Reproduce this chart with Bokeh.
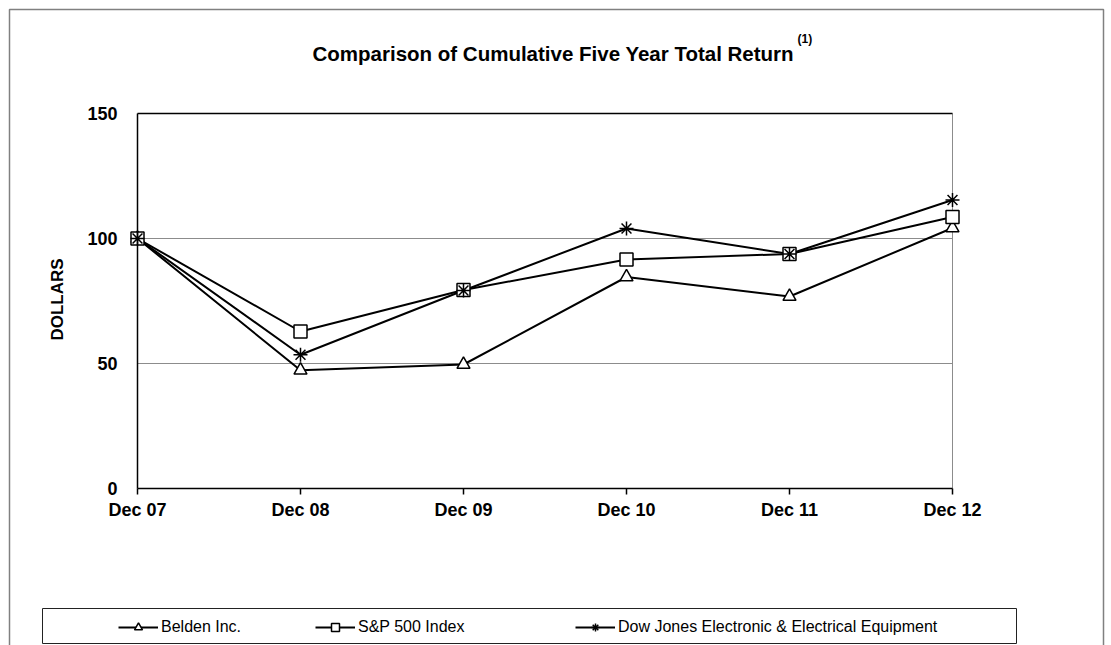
import math
from bokeh.plotting import figure
from bokeh.models import Label, Legend, LegendItem, BoxAnnotation, FixedTicker, Range1d
from bokeh.embed import file_html
from bokeh.resources import INLINE

# ---- data ----
years = ["Dec 07", "Dec 08", "Dec 09", "Dec 10", "Dec 11", "Dec 12"]
belden = [100, 47.3, 49.6, 84.6, 76.8, 104.2]
sp500 = [100, 62.8, 79.4, 91.6, 93.8, 108.6]
dowjones = [100, 53.5, 79.2, 104.0, 93.8, 115.4]
series_names = ["Belden Inc.", "S&P 500 Index", "Dow Jones Electronic & Electrical Equipment"]
y_ticks = [0, 50, 100, 150]
grid_values = [50, 100]
title_text = "Comparison of Cumulative Five Year Total Return"
title_note = "(1)"
y_title = "DOLLARS"

# ---- layout (canvas px) ----
W, H = 1111, 645
PL, PR, PT, PB = 137, 952, 113, 488   # plot box
FONT = "Liberation Sans"
xs = list(range(len(years)))
xmax = len(years) - 1
ymax = y_ticks[-1]
ux = (PR - PL) / xmax
uy = (PB - PT) / ymax
x_range = Range1d(-PL / ux, xmax + (W - PR) / ux)
y_range = Range1d(-(H - PB) / uy, ymax + PT / uy)

p = figure(width=W, height=H, output_backend="svg", toolbar_location=None, title=None,
           x_range=x_range, y_range=y_range,
           min_border_left=0, min_border_right=0, min_border_top=0, min_border_bottom=0)
p.outline_line_color = None
p.background_fill_color = "white"
p.border_fill_color = "white"
p.xgrid.visible = False
p.ygrid.visible = False

# x axis
p.xaxis.fixed_location = 0
p.xaxis.ticker = FixedTicker(ticks=xs)
p.xaxis.major_label_overrides = {i: t for i, t in enumerate(years)}
p.xaxis.bounds = (0, xmax)
p.xaxis.axis_line_color = "black"
p.xaxis.axis_line_width = 1.5
p.xaxis.major_tick_line_color = "black"
p.xaxis.major_tick_line_width = 1.5
p.xaxis.major_tick_in = 0
p.xaxis.major_tick_out = 6
p.xaxis.minor_tick_line_color = None
p.xaxis.major_label_standoff = 5
p.xaxis.major_label_text_font = FONT
p.xaxis.major_label_text_font_style = "bold"
p.xaxis.major_label_text_font_size = "18px"
p.xaxis.major_label_text_color = "black"

# y axis
p.yaxis.fixed_location = 0
p.yaxis.ticker = FixedTicker(ticks=y_ticks)
p.yaxis.bounds = (0, ymax)
p.yaxis.axis_line_color = "black"
p.yaxis.axis_line_width = 1.5
p.yaxis.major_tick_line_color = None
p.yaxis.minor_tick_line_color = None
p.yaxis.major_tick_in = 0
p.yaxis.major_tick_out = 0
p.yaxis.major_label_standoff = 20
p.yaxis.major_label_text_font = FONT
p.yaxis.major_label_text_font_style = "bold"
p.yaxis.major_label_text_font_size = "18px"
p.yaxis.major_label_text_color = "black"

# grid lines
p.segment(x0=[0] * len(grid_values), x1=[xmax] * len(grid_values), y0=grid_values, y1=grid_values,
          line_color="#8c8c8c", line_width=1)
# plot box (top black, right grey)
p.segment(x0=[xmax], y0=[0], x1=[xmax], y1=[ymax], line_color="#8c8c8c", line_width=1)
p.segment(x0=[0], y0=[ymax], x1=[xmax], y1=[ymax], line_color="black", line_width=1.5)

markers = ["triangle", "square", "asterisk"]
sizes = [13, 13, 14]
data = [belden, sp500, dowjones]
line_rs = []
for vals in data:
    line_rs.append(p.line(xs, vals, line_color="black", line_width=2))
scat_rs = []
for vals, m, s in zip(data, markers, sizes):
    scat_rs.append(p.scatter(xs, vals, marker=m, size=s, fill_color="white",
                             line_color="black", line_width=1.5))

# legend items (separate positions; screen units from canvas bottom-left)
leg_x = [118, 315, 575]
for name, lr, sr, lx in zip(series_names, line_rs, scat_rs, leg_x):
    leg = Legend(items=[LegendItem(label=name, renderers=[lr, sr])],
                 location=(lx, H - 637), orientation="horizontal",
                 padding=0, margin=0, spacing=0, glyph_width=40, glyph_height=20,
                 label_height=20, label_standoff=3, border_line_color=None,
                 background_fill_alpha=0, label_text_font=FONT,
                 label_text_font_size="16px", label_text_color="black")
    p.add_layout(leg)

# legend box
p.add_layout(BoxAnnotation(left=42, right=1016, top=H - 608, bottom=H - 643,
                           left_units="screen", right_units="screen", top_units="screen",
                           bottom_units="screen", fill_alpha=0, line_color="#222222",
                           line_width=1, line_alpha=1))
# outer border
p.add_layout(BoxAnnotation(left=9, right=1103, top=H - 9, bottom=-20,
                           left_units="screen", right_units="screen", top_units="screen",
                           bottom_units="screen", fill_alpha=0, line_color="#808080",
                           line_width=1.5, line_alpha=1))

# titles
p.add_layout(Label(x=312, y=H - 53, x_units="screen", y_units="screen", text=title_text,
                   text_font=FONT, text_font_style="bold", text_font_size="20.5px",
                   text_color="black", text_align="left", text_baseline="alphabetic"))
p.add_layout(Label(x=797, y=H - 38, x_units="screen", y_units="screen", text=title_note,
                   text_font=FONT, text_font_style="bold", text_font_size="12px",
                   text_color="black", text_align="left", text_baseline="alphabetic"))
p.add_layout(Label(x=57, y=H - 299, x_units="screen", y_units="screen", text=y_title,
                   angle=math.pi / 2, text_font=FONT, text_font_style="bold",
                   text_font_size="17px", text_color="black", text_align="center",
                   text_baseline="middle"))

open("out.html", "w").write(file_html(p, INLINE))
